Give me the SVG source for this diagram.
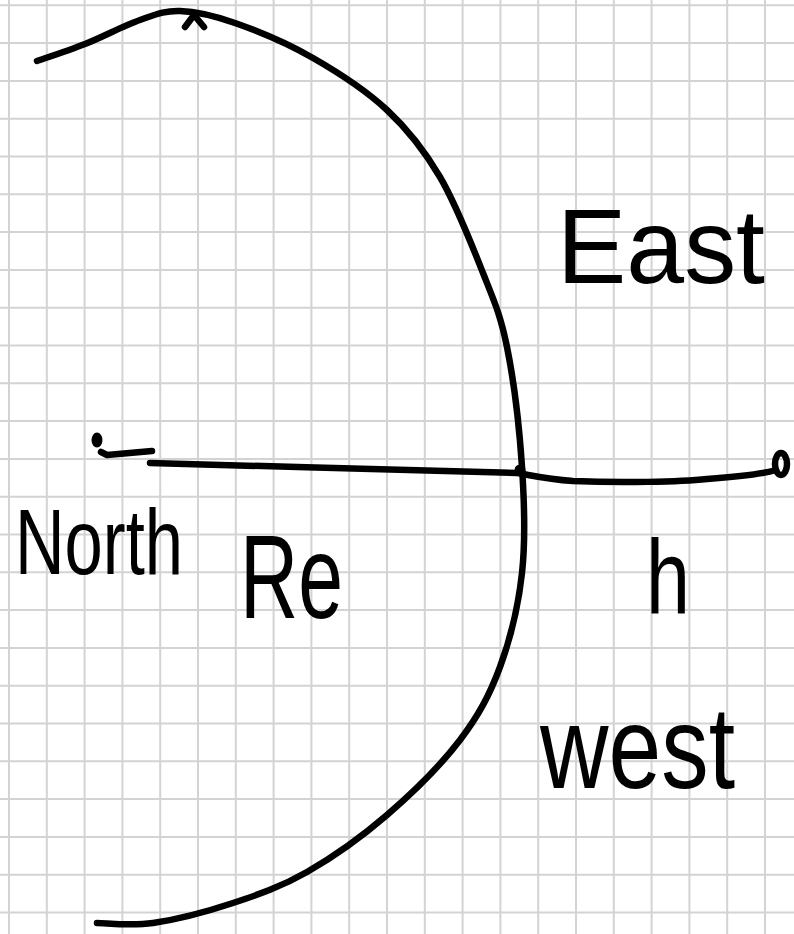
<svg xmlns="http://www.w3.org/2000/svg" width="794" height="934" viewBox="0 0 794 934">
<style>
.grid{fill:none;stroke:#d3d3d3;stroke-width:2}
.ink{fill:none;stroke:#000;stroke-width:6.5;stroke-linecap:round;stroke-linejoin:round}
.lbl{font-family:"Liberation Sans","DejaVu Sans",sans-serif;fill:#000}
</style>
<rect width="794" height="934" fill="#fff"/>
<path class="grid" d="M9,0V934M46.8,0V934M84.6,0V934M122.4,0V934M160.2,0V934M198,0V934M235.8,0V934M273.6,0V934M311.4,0V934M349.2,0V934M387,0V934M424.8,0V934M462.6,0V934M500.4,0V934M538.2,0V934M576,0V934M613.8,0V934M651.6,0V934M689.4,0V934M727.2,0V934M765,0V934
M0,5.3H794M0,43.1H794M0,80.9H794M0,118.7H794M0,156.5H794M0,194.3H794M0,232.1H794M0,269.9H794M0,307.7H794M0,345.5H794M0,383.3H794M0,421.1H794M0,458.9H794M0,496.7H794M0,534.5H794M0,572.3H794M0,610.1H794M0,647.9H794M0,685.7H794M0,723.5H794M0,761.3H794M0,799.1H794M0,836.9H794M0,874.7H794M0,912.5H794"/>
<g id="connectors">
<path id="earth-arc" class="ink" d="M37,61 C45,58.2 67.8,50.8 85,44 C102.2,37.2 124.2,25.5 140,20 C155.8,14.5 164.2,10.5 180,11 C195.8,11.5 212.8,15.2 235,23 C257.2,30.8 287.7,43.5 313,58 C338.3,72.5 365.8,90.2 387,110 C408.2,129.8 424,149.8 440,177 C456,204.2 471.8,244.7 483,273 C494.2,301.3 500.5,314.7 507,347 C513.5,379.3 519.5,429.3 522,467 C524.5,504.7 525.7,539.7 522,573 C518.3,606.3 510.3,639.2 500,667 C489.7,694.8 478.8,715.3 460,740 C441.2,764.7 412.5,793 387,815 C361.5,837 332.7,857.3 307,872 C281.3,886.7 258.7,894.5 233,903 C207.3,911.5 175.7,919.7 153,923 C130.3,926.3 106.3,923 97,923"/>
<path id="peak-mark" class="ink" d="M185,27 L194,15 L204,27"/>
<path id="radius-line" class="ink" d="M150,463 C260,466 440,471 517,473 C530,475 545,479 573,481 C620,483 680,482 707,479 C735,477 760,475 776,470"/>
<path id="north-tick" class="ink" d="M101,452 L107,455 L152,451"/>
</g>
<g id="north-point"><ellipse cx="97" cy="440" rx="5.5" ry="7.5" fill="#000"/></g>
<g id="surface-point"><circle cx="520" cy="470" r="5.5" fill="#000"/></g>
<g id="end-point"><ellipse class="ink" cx="781" cy="464" rx="6" ry="11" stroke-width="6"/></g>
<g id="label-north"><text class="lbl" x="15" y="574" font-size="92" textLength="168" lengthAdjust="spacingAndGlyphs">North</text></g>
<g id="label-re"><text class="lbl" x="240" y="618" font-size="118" textLength="103" lengthAdjust="spacingAndGlyphs">Re</text></g>
<g id="label-east"><text class="lbl" x="557" y="283" font-size="106" textLength="208" lengthAdjust="spacingAndGlyphs">East</text></g>
<g id="label-h"><text class="lbl" x="646" y="614" font-size="105" textLength="44" lengthAdjust="spacingAndGlyphs">h</text></g>
<g id="label-west"><text class="lbl" x="540" y="788" font-size="116" textLength="195" lengthAdjust="spacingAndGlyphs">west</text></g>
</svg>
